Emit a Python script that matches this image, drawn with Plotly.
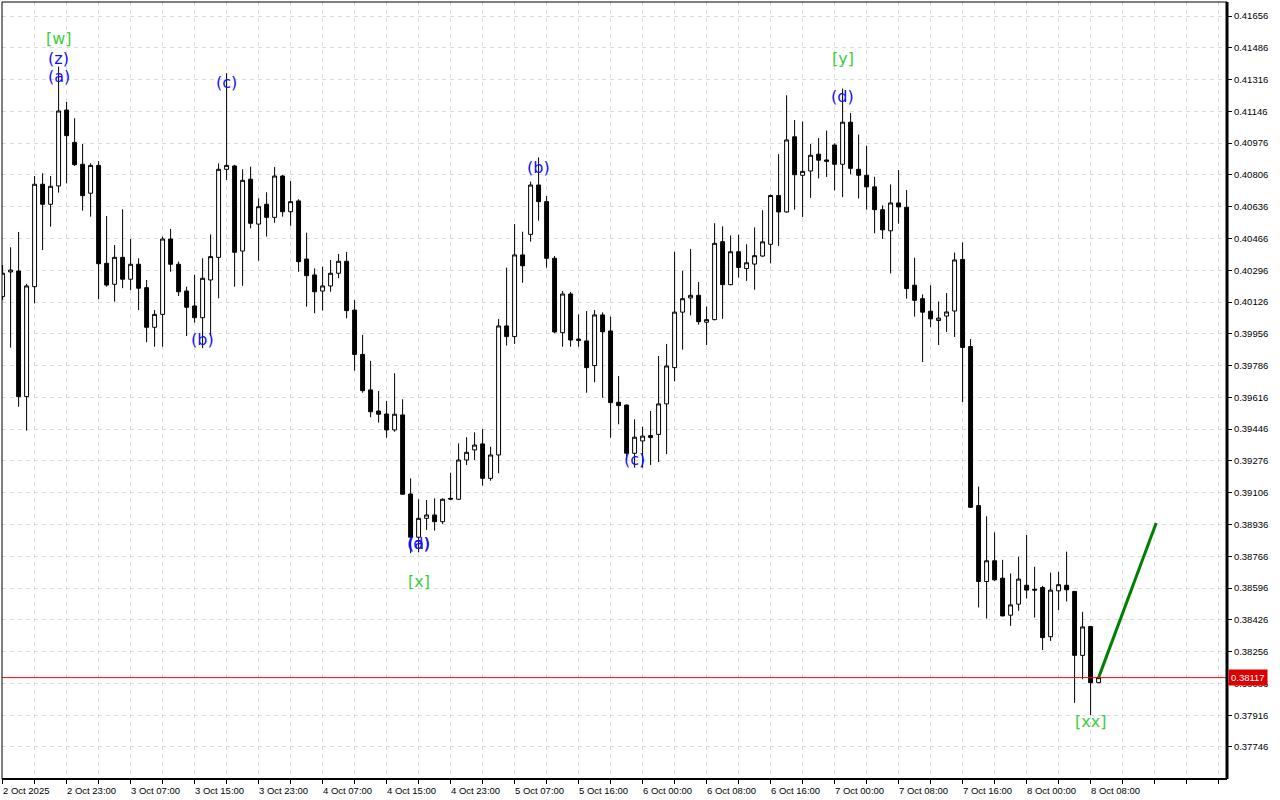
import plotly.graph_objects as go

# ---------------- data (hourly bars) ----------------
bar_idx = list(range(138))

open_ = [0.40155, 0.40287, 0.40292, 0.39620, 0.40208, 0.40756, 0.40649, 0.40747, 0.41153, 0.40980,
         0.40863, 0.40708, 0.40857, 0.40333, 0.40221, 0.40365, 0.40248, 0.40328, 0.40203, 0.39991,
         0.40060, 0.40463, 0.40328, 0.40185, 0.40105, 0.40042, 0.40244, 0.40365, 0.40836, 0.40854,
         0.40399, 0.40783, 0.40543, 0.40649, 0.40579, 0.40800, 0.40609, 0.40667, 0.40356, 0.40271,
         0.40185, 0.40212, 0.40280, 0.40344, 0.40083, 0.39846, 0.39656, 0.39543, 0.39527, 0.39442,
         0.39522, 0.39099, 0.38868, 0.38969, 0.38987, 0.38951, 0.39076, 0.39071, 0.39281, 0.39335,
         0.39367, 0.39183, 0.39308, 0.39998, 0.39941, 0.40378, 0.40488, 0.40752, 0.40663, 0.40360,
         0.39962, 0.40169, 0.39928, 0.39918, 0.39786, 0.40057, 0.39971, 0.39590, 0.39575, 0.39317,
         0.39383, 0.39401, 0.39418, 0.39581, 0.39775, 0.40072, 0.40148, 0.40162, 0.40018, 0.40032,
         0.40449, 0.40219, 0.40395, 0.40305, 0.40329, 0.40372, 0.40435, 0.40696, 0.40608, 0.41010,
         0.40804, 0.40827, 0.40917, 0.40886, 0.40966, 0.40863, 0.41088, 0.40836, 0.40804, 0.40742,
         0.40620, 0.40507, 0.40656, 0.40633, 0.40216, 0.40144, 0.40077, 0.40027, 0.40051, 0.40078,
         0.40354, 0.39888, 0.39037, 0.38631, 0.38742, 0.38649, 0.38451, 0.38510, 0.38611, 0.38590,
         0.38599, 0.38336, 0.38581, 0.38611, 0.38578, 0.38236, 0.38390, 0.38090]

high = [0.40324, 0.40419, 0.40501, 0.40223, 0.40800, 0.40815, 0.40800, 0.41385, 0.41196, 0.41109,
        0.40971, 0.40868, 0.40880, 0.40586, 0.40431, 0.40622, 0.40463, 0.40360, 0.40244, 0.40083,
        0.40476, 0.40517, 0.40342, 0.40208, 0.40271, 0.40360, 0.40488, 0.40868, 0.41350, 0.40860,
        0.40836, 0.40850, 0.40681, 0.40713, 0.40848, 0.40805, 0.40773, 0.40676, 0.40497, 0.40306,
        0.40315, 0.40351, 0.40383, 0.40394, 0.40137, 0.39950, 0.39811, 0.39650, 0.39597, 0.39745,
        0.39606, 0.39183, 0.39071, 0.39067, 0.39076, 0.39076, 0.39213, 0.39370, 0.39403, 0.39429,
        0.39447, 0.39352, 0.40035, 0.40310, 0.40543, 0.40502, 0.40770, 0.40900, 0.40693, 0.40372,
        0.40185, 0.40180, 0.40060, 0.40078, 0.40083, 0.40071, 0.40048, 0.39730, 0.39578, 0.39499,
        0.39459, 0.39543, 0.39837, 0.39902, 0.40395, 0.40293, 0.40410, 0.40233, 0.40102, 0.40548,
        0.40531, 0.40482, 0.40486, 0.40435, 0.40525, 0.40617, 0.40701, 0.40917, 0.41232, 0.41100,
        0.41092, 0.40971, 0.41003, 0.41043, 0.40975, 0.41268, 0.41137, 0.41022, 0.40962, 0.40796,
        0.40643, 0.40755, 0.40832, 0.40725, 0.40363, 0.40167, 0.40216, 0.40129, 0.40174, 0.40391,
        0.40445, 0.39928, 0.39139, 0.38980, 0.38894, 0.38747, 0.38674, 0.38763, 0.38880, 0.38710,
        0.38608, 0.38679, 0.38683, 0.38791, 0.38580, 0.38469, 0.38394, 0.38120]

low = [0.40137, 0.39882, 0.39566, 0.39438, 0.40119, 0.40404, 0.40529, 0.40711, 0.40761, 0.40854,
       0.40615, 0.40583, 0.40141, 0.40208, 0.40128, 0.40200, 0.40190, 0.40083, 0.39911, 0.39887,
       0.39887, 0.40288, 0.40158, 0.39944, 0.40016, 0.39879, 0.39944, 0.40146, 0.40779, 0.40208,
       0.40213, 0.40520, 0.40347, 0.40476, 0.40550, 0.40583, 0.40534, 0.40288, 0.40101, 0.40066,
       0.40080, 0.40181, 0.40253, 0.40039, 0.39759, 0.39641, 0.39510, 0.39481, 0.39400, 0.39432,
       0.39095, 0.38782, 0.38787, 0.38907, 0.38903, 0.38939, 0.39067, 0.39067, 0.39254, 0.39281,
       0.39144, 0.39170, 0.39210, 0.39893, 0.39902, 0.40229, 0.40449, 0.40561, 0.40310, 0.39959,
       0.39887, 0.39887, 0.39887, 0.39641, 0.39697, 0.39614, 0.39400, 0.39472, 0.39281, 0.39240,
       0.39240, 0.39254, 0.39270, 0.39313, 0.39703, 0.39871, 0.40054, 0.40005, 0.39896, 0.40028,
       0.40036, 0.40216, 0.40257, 0.40239, 0.40192, 0.40368, 0.40333, 0.40426, 0.40604, 0.40620,
       0.40581, 0.40683, 0.40787, 0.40795, 0.40723, 0.40687, 0.40809, 0.40680, 0.40620, 0.40494,
       0.40464, 0.40279, 0.40545, 0.40144, 0.40048, 0.39805, 0.39991, 0.39896, 0.39966, 0.39939,
       0.39591, 0.39025, 0.38492, 0.38433, 0.38634, 0.38445, 0.38394, 0.38474, 0.38540, 0.38438,
       0.38265, 0.38313, 0.38478, 0.38524, 0.37982, 0.38108, 0.37917, 0.38088]

close = [0.40280, 0.40297, 0.39620, 0.40212, 0.40756, 0.40649, 0.40745, 0.41148, 0.41016, 0.40861,
         0.40695, 0.40857, 0.40331, 0.40217, 0.40365, 0.40248, 0.40328, 0.40200, 0.39991, 0.40060,
         0.40463, 0.40328, 0.40181, 0.40098, 0.40042, 0.40253, 0.40369, 0.40836, 0.40857, 0.40392,
         0.40777, 0.40547, 0.40636, 0.40579, 0.40800, 0.40609, 0.40663, 0.40342, 0.40267, 0.40181,
         0.40212, 0.40280, 0.40344, 0.40080, 0.39846, 0.39652, 0.39539, 0.39526, 0.39442, 0.39526,
         0.39098, 0.38868, 0.38969, 0.38987, 0.38951, 0.39071, 0.39072, 0.39281, 0.39322, 0.39361,
         0.39183, 0.39308, 0.39998, 0.39941, 0.40378, 0.40320, 0.40752, 0.40663, 0.40360, 0.39966,
         0.40169, 0.39923, 0.39921, 0.39775, 0.40057, 0.39967, 0.39588, 0.39572, 0.39317, 0.39403,
         0.39409, 0.39412, 0.39581, 0.39784, 0.40072, 0.40144, 0.40162, 0.40021, 0.40032, 0.40440,
         0.40219, 0.40395, 0.40311, 0.40336, 0.40374, 0.40448, 0.40696, 0.40608, 0.40993, 0.40807,
         0.40825, 0.40911, 0.40885, 0.40879, 0.40863, 0.41088, 0.40841, 0.40804, 0.40742, 0.40620,
         0.40512, 0.40656, 0.40635, 0.40198, 0.40135, 0.40072, 0.40036, 0.40040, 0.40073, 0.40351,
         0.39883, 0.39028, 0.38631, 0.38742, 0.38640, 0.38447, 0.38506, 0.38644, 0.38585, 0.38585,
         0.38331, 0.38585, 0.38614, 0.38587, 0.38236, 0.38388, 0.38090, 0.38117]

current_price = 0.38117
current_label = "0.38117"

# projection line (green)
proj_x = [137, 144.2]
proj_y = [0.38117, 0.38944]

# x-axis time labels (every 8 bars)
xtick_bars = [0, 8, 16, 24, 32, 40, 48, 56, 64, 72, 80, 88, 96, 104, 112, 120, 128, 136]
xtick_labels = ["2 Oct 2025", "2 Oct 23:00", "3 Oct 07:00", "3 Oct 15:00", "3 Oct 23:00",
                "4 Oct 07:00", "4 Oct 15:00", "4 Oct 23:00", "5 Oct 07:00", "5 Oct 16:00",
                "6 Oct 00:00", "6 Oct 08:00", "6 Oct 16:00", "7 Oct 00:00", "7 Oct 08:00",
                "7 Oct 16:00", "8 Oct 00:00", "8 Oct 08:00"]
xgrid_bars = list(range(0, 153, 4))

# y-axis price labels
ytick_labels = ["0.41656", "0.41486", "0.41316", "0.41146", "0.40976", "0.40806", "0.40636",
                "0.40466", "0.40296", "0.40126", "0.39956", "0.39786", "0.39616", "0.39446",
                "0.39276", "0.39106", "0.38936", "0.38766", "0.38596", "0.38426", "0.38256",
                "0.38086", "0.37916", "0.37746"]

# wave labels: text, bar index, price, colour
wave_text = ["[w]", "(z)", "(a)", "(c)", "(b)", "(d)", "(a)", "[x]", "(b)", "(c)", "[y]", "(d)", "[xx]"]
wave_bar = [7, 7, 7, 28, 25, 52, 52, 52, 67, 79, 105, 105, 136]
wave_price = [0.41538, 0.41431, 0.41335, 0.41298, 0.39923, 0.38837, 0.38837, 0.38629,
              0.40848, 0.39286, 0.41431, 0.41223, 0.37880]
wave_color = ["#3ccf3c", "#1010ff", "#1010ff", "#1010ff", "#1010ff", "#1010ff", "#1010ff", "#3ccf3c",
              "#1010ff", "#1010ff", "#3ccf3c", "#1010ff", "#3ccf3c"]

# ---------------- figure ----------------
fig = go.Figure()

fig.add_trace(go.Candlestick(
    x=bar_idx, open=open_, high=high, low=low, close=close,
    increasing=dict(line=dict(color="black", width=1), fillcolor="white"),
    decreasing=dict(line=dict(color="black", width=1), fillcolor="black"),
    whiskerwidth=0, showlegend=False, hoverinfo="skip",
))

fig.add_trace(go.Scatter(
    x=proj_x, y=proj_y, mode="lines",
    line=dict(color="#008000", width=3), showlegend=False, hoverinfo="skip",
))

grid = dict(showgrid=True, gridcolor="#dcdcdc", griddash="4px,4px", gridwidth=1)

fig.update_layout(
    width=1280, height=800,
    margin=dict(l=2, r=53, t=2, b=21),
    paper_bgcolor="white", plot_bgcolor="white",
    boxgap=0.3, boxgroupgap=0.3,
    showlegend=False,
    font=dict(family="Liberation Sans", size=9, color="black"),
    xaxis=dict(
        range=[-0.075, 153.05], tickvals=xgrid_bars, ticktext=[""] * len(xgrid_bars),
        ticks="outside", ticklen=4, tickcolor="black", zeroline=False, showline=False,
        rangeslider=dict(visible=False), fixedrange=True, automargin=False, **grid,
    ),
    yaxis=dict(
        side="right", range=[0.375747, 0.417309],
        tickvals=[float(t) for t in ytick_labels], ticktext=ytick_labels,
        ticks="outside", ticklen=4, tickcolor="black",
        tickfont=dict(family="Liberation Sans", size=9.5, color="black"),
        zeroline=False, showline=False, fixedrange=True, automargin=False, **grid,
    ),
)

shapes = [
    dict(type="line", xref="paper", yref="y", x0=0, x1=1, y0=current_price, y1=current_price,
         line=dict(color="#ff0000", width=1)),
    dict(type="rect", xref="paper", yref="paper", x0=0, x1=1, y0=0, y1=1,
         line=dict(color="black", width=1)),
    dict(type="line", xref="paper", yref="paper", x0=1, x1=1, y0=0, y1=1,
         line=dict(color="black", width=3)),
    dict(type="line", xref="paper", yref="paper", x0=0, x1=1, y0=0, y1=0,
         line=dict(color="black", width=2)),
]
fig.update_layout(shapes=shapes)

annotations = []
for b, lab in zip(xtick_bars, xtick_labels):
    annotations.append(dict(x=b, y=0, xref="x", yref="paper", text=lab, showarrow=False,
                            xanchor="left", yanchor="top", xshift=-2, yshift=-4,
                            font=dict(family="Liberation Sans", size=9.5, color="black")))
for t, b, p, c in zip(wave_text, wave_bar, wave_price, wave_color):
    annotations.append(dict(x=b, y=p, xref="x", yref="y", text=t, showarrow=False,
                            xanchor="center", yanchor="middle",
                            font=dict(family="DejaVu Sans", size=16, color=c)))
annotations.append(dict(x=1, y=current_price, xref="paper", yref="y", text=current_label,
                        showarrow=False, xanchor="left", yanchor="middle", xshift=1,
                        bgcolor="#dd0000", borderpad=2,
                        font=dict(family="Liberation Sans", size=9.5, color="white")))
fig.update_layout(annotations=annotations)

fig.write_html(
    "out.html",
    config={"displayModeBar": False},
    post_script="document.body.style.margin='0';document.body.style.overflow='hidden';",
)
